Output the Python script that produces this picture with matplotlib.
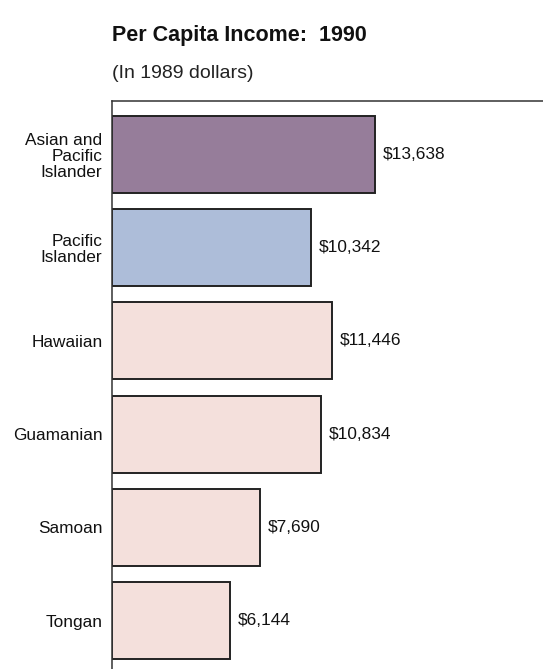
import matplotlib
matplotlib.use("Agg")
import matplotlib.pyplot as plt

plt.rcParams['font.family'] = ['Liberation Sans', 'DejaVu Sans']

# per capita income, 1990 census (1989 dollars)
groups = ["Asian and\nPacific\nIslander", "Pacific\nIslander", "Hawaiian",
          "Guamanian", "Samoan", "Tongan"]
income = [13638, 10342, 11446, 10834, 7690, 6144]
colors = ["#967d9a", "#adbdd9", "#f4e0dc", "#f4e0dc", "#f4e0dc", "#f4e0dc"]

W, H = 543, 669
fig = plt.figure(figsize=(W / 100, H / 100), dpi=100)
ax = fig.add_axes([111.5 / W, 0, 1 - 111.5 / W, 1 - 100.7 / H])

pos = list(range(len(groups)))
ax.barh(pos, income, height=0.826, color=colors, edgecolor="#222222", linewidth=1.4)

for p, v in zip(pos, income):
    ax.text(v + 400, p, f"${v:,}", va="center", ha="left", fontsize=12.4, color="#111111")

ax.set_xlim(0, 22360)
ax.set_ylim(5.52, -0.577)
ax.set_xticks([])
ax.set_yticks(pos)
ax.set_yticklabels(groups, fontsize=12.4, color="#111111")
for lbl in ax.get_yticklabels():
    lbl.set_linespacing(1.08)
ax.tick_params(axis="y", length=0, pad=6.5)

for side in ["right", "bottom"]:
    ax.spines[side].set_visible(False)
for side in ["left", "top"]:
    ax.spines[side].set_color("#333333")
    ax.spines[side].set_linewidth(1.1)

fig.text(111.5 / W, 1 - 41 / H, "Per Capita Income:  1990", fontsize=15.5,
         fontweight="bold", ha="left", va="baseline", color="#111111")
fig.text(111.5 / W, 1 - 78 / H, "(In 1989 dollars)", fontsize=14,
         ha="left", va="baseline", color="#222222")

fig.savefig("out.png", dpi=100)
